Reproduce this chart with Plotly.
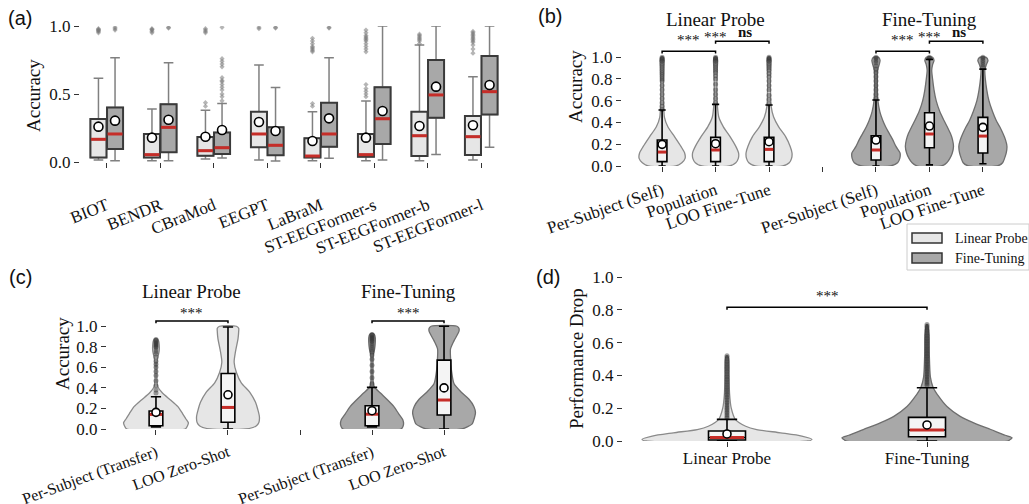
import plotly.graph_objects as go

SERIF = "Liberation Serif"
SANS = "Liberation Sans"
LP_FILL = "#e6e6e6"
FT_FILL = "#a8a8a8"
RED = "#c62d28"
W_PX, H_PX = 1029, 504

# ---------------- Panel (a) data ----------------
models = ["BIOT", "BENDR", "CBraMod", "EEGPT", "LaBraM",
          "ST-EEGFormer-s", "ST-EEGFormer-b", "ST-EEGFormer-l"]
a_lp_q1 = [0.034, 0.034, 0.046, 0.108, 0.034, 0.039, 0.044, 0.051]
a_lp_med = [0.167, 0.054, 0.083, 0.206, 0.044, 0.054, 0.193, 0.186]
a_lp_q3 = [0.316, 0.206, 0.184, 0.370, 0.174, 0.206, 0.370, 0.338]
a_lp_lo = [0.015, 0.010, 0.022, 0.015, 0.010, 0.010, 0.010, 0.015]
a_lp_hi = [0.615, 0.390, 0.380, 0.713, 0.370, 0.449, 0.860, 0.627]
a_lp_mean = [0.260, 0.179, 0.186, 0.294, 0.154, 0.179, 0.265, 0.270]
a_ft_q1 = [0.095, 0.071, 0.059, 0.049, 0.113, 0.132, 0.326, 0.350]
a_ft_med = [0.206, 0.255, 0.105, 0.123, 0.206, 0.318, 0.493, 0.517]
a_ft_q3 = [0.400, 0.424, 0.216, 0.255, 0.436, 0.549, 0.750, 0.780]
a_ft_lo = [0.010, 0.010, 0.029, 0.008, 0.027, 0.015, 0.056, 0.108]
a_ft_hi = [0.767, 0.730, 0.430, 0.547, 0.767, 1.000, 1.000, 1.000]
a_ft_mean = [0.304, 0.311, 0.235, 0.228, 0.321, 0.375, 0.554, 0.566]
a_lp_out = [
    [0.95, 0.96, 0.965, 0.97, 0.975, 0.98],
    [0.95, 0.96, 0.97, 0.975, 0.98],
    [0.41, 0.436, 0.95, 0.96, 0.97, 0.98],
    [0.98, 0.99],
    [0.41, 0.43, 0.81, 0.82, 0.83, 0.84, 0.85, 0.87, 0.89, 0.91],
    [0.48, 0.50, 0.52, 0.54, 0.57, 0.81, 0.83, 0.85, 0.87, 0.89, 0.90, 0.91, 0.92, 0.93, 0.95, 0.97],
    [0.87, 0.89, 0.90, 0.91, 0.92, 0.93, 0.94],
    [0.80, 0.83, 0.86, 0.88, 0.89, 0.90, 0.91, 0.92, 0.93, 0.94, 0.95, 0.96],
]
a_ft_out = [
    [0.97, 0.98, 0.99],
    [0.985, 0.99],
    [0.45, 0.48, 0.50, 0.53, 0.55, 0.57, 0.59, 0.60, 0.62, 0.70, 0.72, 0.74, 0.76, 0.99],
    [0.985, 0.99],
    [0.985, 0.99],
    [],
    [],
    [],
]

# ---------------- Panel (b) data ----------------
b_pos = [0, 1, 2, 4, 5, 6]
b_names = ["Per-Subject (Self)", "Population", "LOO Fine-Tune"]
b_q1 = [0.040, 0.040, 0.040, 0.055, 0.168, 0.120]
b_med = [0.128, 0.147, 0.153, 0.147, 0.294, 0.275]
b_q3 = [0.239, 0.263, 0.263, 0.278, 0.489, 0.447]
b_lo = [0.0, 0.0, 0.0, 0.0, 0.010, 0.020]
b_hi = [0.514, 0.566, 0.560, 0.606, 0.980, 0.890]
b_mean = [0.199, 0.205, 0.223, 0.239, 0.367, 0.355]
b_out = [
    [0.52, 0.55, 0.58, 0.62, 0.66, 0.70, 0.74, 0.78, 0.80, 0.82, 0.84, 0.86, 0.88, 0.90, 0.92, 0.94, 0.96, 0.97, 0.98, 0.99, 1.0],
    [0.58, 0.62, 0.66, 0.70, 0.75, 0.80, 0.83, 0.86, 0.88, 0.90, 0.92, 0.94, 0.96, 0.97, 0.98, 0.99, 1.0],
    [0.57, 0.61, 0.65, 0.70, 0.74, 0.78, 0.82, 0.85, 0.88, 0.90, 0.92, 0.94, 0.96, 0.97, 0.98, 0.99, 1.0],
    [0.62, 0.66, 0.70, 0.74, 0.78, 0.82, 0.86, 0.89, 0.92, 0.95, 0.97, 0.99, 1.0],
    [0.99, 1.0],
    [0.91, 0.93, 0.95, 0.97, 0.99, 1.0],
]
# violin outlines: levels (accuracy) and relative half-widths
b_lp_levels = [0.0, 0.03, 0.07, 0.12, 0.18, 0.27, 0.36, 0.45, 0.55, 0.65, 0.75, 0.85, 0.92, 0.97, 1.0]
b_lp_fracs = [
    [0.60, 0.86, 1.00, 0.98, 0.82, 0.54, 0.25, 0.10, 0.07, 0.06, 0.06, 0.07, 0.08, 0.09, 0.05],
    [0.60, 0.88, 0.99, 1.00, 0.88, 0.63, 0.34, 0.14, 0.08, 0.06, 0.06, 0.07, 0.08, 0.09, 0.05],
    [0.60, 0.88, 0.98, 1.00, 0.92, 0.72, 0.42, 0.20, 0.09, 0.07, 0.06, 0.07, 0.08, 0.09, 0.05],
]
b_ft_levels = [0.0, 0.03, 0.07, 0.12, 0.18, 0.24, 0.30, 0.36, 0.42, 0.50, 0.60, 0.70, 0.80, 0.88, 0.93, 0.97, 1.0]
b_ft_fracs = [
    [0.60, 0.90, 0.99, 1.00, 0.83, 0.70, 0.55, 0.40, 0.28, 0.16, 0.08, 0.06, 0.06, 0.07, 0.13, 0.17, 0.10],
    [0.50, 0.72, 0.85, 0.95, 1.00, 0.96, 0.87, 0.74, 0.60, 0.43, 0.28, 0.19, 0.13, 0.095, 0.13, 0.19, 0.12],
    [0.60, 0.82, 0.90, 0.97, 1.00, 0.94, 0.83, 0.70, 0.55, 0.40, 0.25, 0.16, 0.10, 0.08, 0.14, 0.21, 0.12],
]

# ---------------- Panel (c) data ----------------
c_pos = [0, 1, 3, 4]
c_names = ["Per-Subject (Transfer)", "LOO Zero-Shot"]
c_q1 = [0.032, 0.065, 0.032, 0.136]
c_med = [0.142, 0.210, 0.144, 0.282]
c_q3 = [0.175, 0.540, 0.226, 0.670]
c_lo = [0.020, 0.0, 0.020, 0.0]
c_hi = [0.314, 0.993, 0.405, 1.0]
c_mean = [0.162, 0.333, 0.178, 0.400]
c_out = [
    [0.35, 0.38, 0.42, 0.47, 0.52, 0.56, 0.60, 0.63, 0.66, 0.70, 0.73, 0.75, 0.77, 0.79, 0.80, 0.81, 0.82, 0.83, 0.84, 0.85, 0.86, 0.87],
    [],
    [0.44, 0.50, 0.56, 0.62, 0.68, 0.72, 0.75, 0.77, 0.79, 0.81, 0.83, 0.85, 0.86, 0.87, 0.88, 0.89, 0.90, 0.91, 0.92],
    [],
]
c_levels = [
    [0.0, 0.03, 0.06, 0.10, 0.15, 0.22, 0.28, 0.35, 0.41, 0.48, 0.56, 0.64, 0.70, 0.76, 0.82, 0.86, 0.88],
    [0.0, 0.03, 0.06, 0.12, 0.19, 0.26, 0.36, 0.45, 0.55, 0.65, 0.75, 0.88, 0.95, 0.98, 1.0],
    [0.0, 0.04, 0.09, 0.15, 0.22, 0.28, 0.35, 0.41, 0.48, 0.56, 0.64, 0.72, 0.78, 0.84, 0.89, 0.92, 0.93],
    [0.0, 0.05, 0.09, 0.16, 0.22, 0.29, 0.35, 0.44, 0.57, 0.70, 0.78, 0.86, 0.95, 0.98, 1.0],
]
c_fracs = [
    [0.90, 0.97, 1.00, 0.92, 0.82, 0.67, 0.46, 0.20, 0.06, 0.03, 0.03, 0.03, 0.06, 0.10, 0.10, 0.08, 0.03],
    [0.55, 0.87, 0.95, 0.97, 0.92, 0.85, 0.67, 0.41, 0.26, 0.19, 0.23, 0.31, 0.33, 0.33, 0.26],
    [0.90, 0.97, 0.95, 0.82, 0.67, 0.49, 0.26, 0.07, 0.03, 0.03, 0.03, 0.04, 0.08, 0.10, 0.10, 0.07, 0.03],
    [0.55, 0.87, 0.92, 0.97, 0.92, 0.77, 0.56, 0.31, 0.23, 0.20, 0.20, 0.31, 0.46, 0.46, 0.40],
]

# ---------------- Panel (d) data ----------------
d_pos = [0, 1]
d_names = ["Linear Probe", "Fine-Tuning"]
d_q1 = [0.006, 0.026]
d_med = [0.021, 0.067]
d_q3 = [0.061, 0.144]
d_lo = [0.0, 0.0]
d_hi = [0.132, 0.325]
d_mean = [0.043, 0.098]
d_out = [
    [0.14, 0.15, 0.16, 0.17, 0.18, 0.19, 0.20, 0.21, 0.22, 0.23, 0.24, 0.25, 0.26, 0.27, 0.28, 0.29, 0.30,
     0.31, 0.32, 0.33, 0.34, 0.35, 0.36, 0.37, 0.38, 0.39, 0.40, 0.41, 0.42, 0.43, 0.44, 0.45, 0.46, 0.47,
     0.48, 0.49, 0.50, 0.51, 0.52],
    [0.34, 0.35, 0.36, 0.37, 0.38, 0.39, 0.40, 0.41, 0.42, 0.43, 0.44, 0.45, 0.46, 0.47, 0.48, 0.49, 0.50,
     0.51, 0.52, 0.53, 0.54, 0.55, 0.56, 0.57, 0.58, 0.59, 0.60, 0.61, 0.62, 0.63, 0.64, 0.65, 0.66, 0.67,
     0.68, 0.69, 0.70, 0.71],
]
d_levels = [
    [0.0, 0.01, 0.03, 0.05, 0.07, 0.09, 0.13, 0.20, 0.29, 0.40, 0.50, 0.52],
    [0.0, 0.02, 0.035, 0.07, 0.11, 0.15, 0.21, 0.27, 0.33, 0.39, 0.53, 0.65, 0.71],
]
d_fracs = [
    [0.95, 1.00, 0.88, 0.63, 0.35, 0.22, 0.10, 0.05, 0.03, 0.024, 0.02, 0.005],
    [0.95, 1.00, 0.92, 0.75, 0.55, 0.39, 0.235, 0.14, 0.07, 0.04, 0.027, 0.024, 0.005],
]

fig = go.Figure()


def px_dom_x(a, b):
    return [a / W_PX, b / W_PX]


def px_dom_y(top, bottom):
    return [1 - bottom / H_PX, 1 - top / H_PX]


def add_box(xa, ya, pos, q1, med, q3, lo, hi, width, fill, lcol, lw, ww, z):
    fig.add_trace(go.Box(x=pos, q1=q1, median=med, q3=q3, lowerfence=lo, upperfence=hi,
                         width=width, fillcolor=fill, line=dict(color=lcol, width=lw),
                         whiskerwidth=ww, boxpoints=False, xaxis=xa, yaxis=ya,
                         showlegend=False, hoverinfo="skip", zorder=z))


def add_segments(xa, ya, pos, vals, half, color, lw, z):
    xs, ys = [], []
    for p, v in zip(pos, vals):
        xs += [p - half, p + half, None]
        ys += [v, v, None]
    fig.add_trace(go.Scatter(x=xs, y=ys, mode="lines", line=dict(color=color, width=lw),
                             xaxis=xa, yaxis=ya, showlegend=False, hoverinfo="skip", zorder=z))


def add_means(xa, ya, pos, vals, size, z):
    fig.add_trace(go.Scatter(x=pos, y=vals, mode="markers",
                             marker=dict(color="white", size=size, line=dict(color="black", width=1.6)),
                             xaxis=xa, yaxis=ya, showlegend=False, hoverinfo="skip", zorder=z))


def add_outliers(xa, ya, pos, outs, symbol, size, color, z):
    xs, ys = [], []
    for p, o in zip(pos, outs):
        xs += [p] * len(o)
        ys += o
    fig.add_trace(go.Scatter(x=xs, y=ys, mode="markers",
                             marker=dict(color=color, size=size, symbol=symbol, line=dict(width=0)),
                             xaxis=xa, yaxis=ya, showlegend=False, hoverinfo="skip", zorder=z))


def add_violin(xa, ya, pos, levels, fracs, wmax, fill, edge):
    xs = [pos + wmax * f for f in fracs] + [pos - wmax * f for f in reversed(fracs)]
    ys = list(levels) + list(reversed(levels))
    xs.append(xs[0])
    ys.append(ys[0])
    fig.add_trace(go.Scatter(x=xs, y=ys, mode="lines", fill="toself", fillcolor=fill,
                             line=dict(color=edge, width=1.3, shape="spline", smoothing=0.7),
                             xaxis=xa, yaxis=ya, showlegend=False, hoverinfo="skip", zorder=0))


def add_brackets(xa, ya, pairs, heights, drop):
    xs, ys = [], []
    for (p1, p2), h in zip(pairs, heights):
        xs += [p1, p1, p2, p2, None]
        ys += [h - drop, h, h, h - drop, None]
    fig.add_trace(go.Scatter(x=xs, y=ys, mode="lines", line=dict(color="black", width=1.5),
                             xaxis=xa, yaxis=ya, showlegend=False, hoverinfo="skip",
                             cliponaxis=False, zorder=5))


# ---------- (a) ----------
off = 0.155
bw = 0.30
lp_x = [i - off for i in range(len(models))]
ft_x = [i + off for i in range(len(models))]
for xs, q1, med, q3, lo, hi, mean, outs, fill in [
        (lp_x, a_lp_q1, a_lp_med, a_lp_q3, a_lp_lo, a_lp_hi, a_lp_mean, a_lp_out, LP_FILL),
        (ft_x, a_ft_q1, a_ft_med, a_ft_q3, a_ft_lo, a_ft_hi, a_ft_mean, a_ft_out, FT_FILL)]:
    add_outliers("x", "y", xs, outs, "diamond", 4, "rgba(120,120,120,0.55)", 1)
    add_box("x", "y", xs, q1, med, q3, lo, hi, bw, fill, "#808080", 1.5, 0.6, 1)
    add_box("x", "y", xs, q1, med, q3, q1, q3, bw, fill, "#3a3a3a", 2.0, 0.0, 2)
    add_segments("x", "y", xs, med, bw / 2 - 0.01, RED, 3, 3)
    add_means("x", "y", xs, mean, 9, 4)

# ---------- (b) ----------
for k, p in enumerate(b_pos):
    if k < 3:
        add_violin("x2", "y2", p, b_lp_levels, b_lp_fracs[k], 0.43, LP_FILL, "#8a8a8a")
    else:
        add_violin("x2", "y2", p, b_ft_levels, b_ft_fracs[k - 3], 0.45, FT_FILL, "#6e6e6e")
add_outliers("x2", "y2", b_pos, b_out, "circle", 5, "rgba(50,50,50,0.45)", 1)
add_box("x2", "y2", b_pos, b_q1, b_med, b_q3, b_lo, b_hi, 0.18, "#f4f4f4", "black", 1.6, 0.75, 2)
add_segments("x2", "y2", b_pos, b_med, 0.08, RED, 3, 3)
add_means("x2", "y2", b_pos, b_mean, 8, 4)
add_brackets("x2", "y2", [(0, 1), (1, 2), (4, 5), (5, 6)], [1.055, 1.145, 1.055, 1.145], 0.022)

# ---------- (c) ----------
for k, p in enumerate(c_pos):
    fill = LP_FILL if k < 2 else FT_FILL
    edge = "#8a8a8a" if k < 2 else "#6e6e6e"
    add_violin("x3", "y3", p, c_levels[k], c_fracs[k], 0.45, fill, edge)
add_outliers("x3", "y3", c_pos, c_out, "circle", 5, "rgba(50,50,50,0.45)", 1)
add_box("x3", "y3", c_pos, c_q1, c_med, c_q3, c_lo, c_hi, 0.19, "#f4f4f4", "black", 1.6, 0.75, 2)
add_segments("x3", "y3", c_pos, c_med, 0.085, RED, 3, 3)
add_means("x3", "y3", c_pos, c_mean, 8, 4)
add_brackets("x3", "y3", [(0, 1), (3, 4)], [1.052, 1.052], 0.022)

# ---------- (d) ----------
for k, p in enumerate(d_pos):
    fill = LP_FILL if k == 0 else FT_FILL
    edge = "#8a8a8a" if k == 0 else "#6e6e6e"
    add_violin("x4", "y4", p, d_levels[k], d_fracs[k], 0.425, fill, edge)
add_outliers("x4", "y4", d_pos, d_out, "circle", 5, "rgba(50,50,50,0.45)", 1)
add_box("x4", "y4", d_pos, d_q1, d_med, d_q3, d_lo, d_hi, 0.185, "#f4f4f4", "black", 1.6, 0.55, 2)
add_segments("x4", "y4", d_pos, d_med, 0.085, RED, 3, 3)
add_means("x4", "y4", d_pos, d_mean, 8, 4)
add_brackets("x4", "y4", [(0, 1)], [0.816], 0.016)

# ---------- axes ----------
tickfont = dict(family=SERIF, size=17, color="#111")
common = dict(showgrid=False, zeroline=False, showline=True, mirror=True, ticks="outside",
              ticklen=5, tickwidth=1, tickcolor="#333", tickfont=tickfont, automargin=False)
ctick = dict(family=SERIF, size=16, color="#111")
common_c = dict(common)
common_c["tickfont"] = ctick

fig.update_layout(
    xaxis=dict(domain=px_dom_x(80, 508), range=[-0.5, 7.5], tickvals=list(range(8)),
               ticktext=models, tickangle=-22, anchor="y", linecolor="#333", linewidth=1.3,
               ticklabelstandoff=21, **common),
    yaxis=dict(domain=px_dom_y(26, 162), range=[0, 1], tickvals=[0, 0.5, 1.0],
               ticktext=["0.0", "0.5", "1.0"], anchor="x", linecolor="#333", linewidth=1.3, **common),
    xaxis2=dict(domain=px_dom_x(622, 1023), range=[-0.75, 6.75], tickvals=[0, 1, 2, 3, 4, 5, 6],
                ticktext=b_names + [""] + b_names, tickangle=-19, anchor="y2",
                linecolor="#555", linewidth=1.2, ticklabelstandoff=2, **common),
    yaxis2=dict(domain=px_dom_y(6, 166), range=[0, 1.47], tickvals=[0, 0.2, 0.4, 0.6, 0.8, 1.0],
                ticktext=["0.0", "0.2", "0.4", "0.6", "0.8", "1.0"], anchor="x2",
                linecolor="#555", linewidth=1.2, **common),
    xaxis3=dict(domain=px_dom_x(107, 493), range=[-0.68, 4.68], tickvals=[0, 1, 2, 3, 4],
                ticktext=c_names + [""] + c_names, tickangle=-20, anchor="y3",
                linecolor="#555", linewidth=1.2, ticklabelstandoff=2, **common_c),
    yaxis3=dict(domain=px_dom_y(279, 429), range=[0, 1.46], tickvals=[0, 0.2, 0.4, 0.6, 0.8, 1.0],
                ticktext=["0.0", "0.2", "0.4", "0.6", "0.8", "1.0"], anchor="x3",
                linecolor="#555", linewidth=1.2, **common),
    xaxis4=dict(domain=px_dom_x(623, 1028), range=[-0.52, 1.505], tickvals=[0, 1],
                ticktext=d_names, tickangle=0, anchor="y4",
                linecolor="#333", linewidth=1.2, ticklabelstandoff=-4, **common),
    yaxis4=dict(domain=px_dom_y(277, 441), range=[0, 1.0], tickvals=[0, 0.2, 0.4, 0.6, 0.8, 1.0],
                ticktext=["0.0", "0.2", "0.4", "0.6", "0.8", "1.0"], anchor="x4",
                linecolor="#333", linewidth=1.2, **common),
    boxmode="overlay",
    width=W_PX, height=H_PX, autosize=False,
    margin=dict(l=0, r=0, t=0, b=0),
    plot_bgcolor="white", paper_bgcolor="white",
    showlegend=False,
)

ann = []


def paper_text(text, xpx, ypx, size, family=SERIF, angle=0, xanchor="center", bold=False):
    ann.append(dict(text=("<b>%s</b>" % text) if bold else text, x=xpx / W_PX, y=1 - ypx / H_PX,
                    xref="paper", yref="paper", xanchor=xanchor, yanchor="middle",
                    showarrow=False, textangle=angle, font=dict(family=family, size=size, color="#111")))


def data_text(text, xa, ya, x, y, size, bold=False, yshift=0):
    ann.append(dict(text=("<b>%s</b>" % text) if bold else text, x=x, y=y, xref=xa, yref=ya,
                    xanchor="center", yanchor="middle", showarrow=False, yshift=yshift,
                    font=dict(family=SERIF, size=size, color="#111")))


# panel labels
paper_text("(a)", 20, 18, 20, SANS)
paper_text("(b)", 550, 16, 20, SANS)
paper_text("(c)", 20, 277, 20, SANS)
paper_text("(d)", 548, 277, 20, SANS)
# axis titles
paper_text("Accuracy", 33, 96, 19, angle=-90)
paper_text("Accuracy", 575, 87, 19, angle=-90)
paper_text("Accuracy", 62, 354, 19, angle=-90)
paper_text("Performance Drop", 576, 359, 19, angle=-90)
# group titles
data_text("Linear Probe", "x2", "y2", 1, 1.35, 19)
data_text("Fine-Tuning", "x2", "y2", 5, 1.35, 19)
data_text("Linear Probe", "x3", "y3", 0.5, 1.342, 19)
data_text("Fine-Tuning", "x3", "y3", 3.5, 1.342, 19)
# significance
for base in (0, 4):
    data_text("***", "x2", "y2", base + 0.5, 1.165, 15, yshift=-1)
    data_text("***", "x2", "y2", base + 1.0, 1.197, 15, yshift=-1)
    data_text("ns", "x2", "y2", base + 1.55, 1.225, 15, bold=True, yshift=1)
data_text("***", "x3", "y3", 0.5, 1.162, 15, yshift=-3)
data_text("***", "x3", "y3", 3.5, 1.162, 15, yshift=-3)
data_text("***", "x4", "y4", 0.5, 0.90, 15, yshift=-3)

# legend (drawn manually)
shapes = [
    dict(type="rect", xref="paper", yref="paper", x0=907 / W_PX, x1=1.0, y0=1 - 270 / H_PX,
         y1=1 - 224 / H_PX, line=dict(color="#cccccc", width=1), fillcolor="white"),
    dict(type="rect", xref="paper", yref="paper", x0=912 / W_PX, x1=942 / W_PX, y0=1 - 243 / H_PX,
         y1=1 - 233 / H_PX, line=dict(color="#333", width=1.5), fillcolor=LP_FILL),
    dict(type="rect", xref="paper", yref="paper", x0=912 / W_PX, x1=942 / W_PX, y0=1 - 263 / H_PX,
         y1=1 - 253 / H_PX, line=dict(color="#333", width=1.5), fillcolor=FT_FILL),
]
paper_text("Linear Probe", 953, 238, 14, xanchor="left")
paper_text("Fine-Tuning", 953, 258, 14, xanchor="left")

fig.update_layout(annotations=ann, shapes=shapes)
fig.write_html("out.html", config={"displayModeBar": False},
               post_script="document.body.style.margin='0px';document.body.style.padding='0px';")
